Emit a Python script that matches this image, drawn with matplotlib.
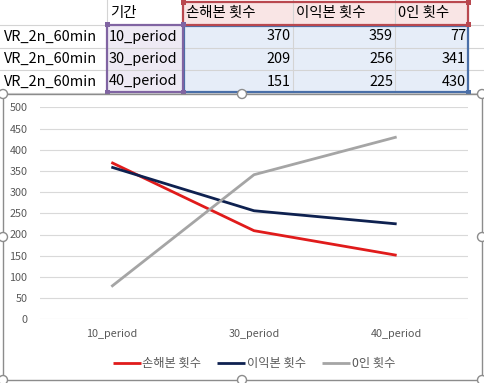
import matplotlib
matplotlib.use('Agg')
import matplotlib.pyplot as plt
from matplotlib.patches import Rectangle, Circle

plt.rcParams['font.family'] = ['Noto Sans CJK KR', 'DejaVu Sans']

# 데이터
row_names = ['VR_2n_60min', 'VR_2n_60min', 'VR_2n_60min']
periods = ['10_period', '30_period', '40_period']
series_names = ['손해본 횟수', '이익본 횟수', '0인 횟수']
loss = [370, 209, 151]
profit = [359, 256, 225]
zero = [77, 341, 430]
series_colors = ['#e01b1b', '#0e2150', '#a5a5a5']

W, H = 484, 383
fig = plt.figure(figsize=(W / 100, H / 100), dpi=100)

# 시트 배경 (픽셀 좌표)
bg = fig.add_axes([0, 0, 1, 1])
bg.set_xlim(0, W)
bg.set_ylim(H, 0)
bg.axis('off')

col_x = [0, 107, 183, 293, 395, 468, 484]
row_y = [0, 25, 48, 70, 93]
grid_c = '#d4d4d4'
for x in col_x[1:-1]:
    bg.plot([x, x], [0, 93], color=grid_c, lw=0.8, zorder=1)
for y in row_y[1:]:
    bg.plot([0, W], [y, y], color=grid_c, lw=0.8, zorder=1)

# 선택 영역 채우기 / 테두리
bg.add_patch(Rectangle((183, 1), 285, 24, facecolor='#f9e5e5', edgecolor='none', zorder=0.5))
bg.add_patch(Rectangle((107, 25), 76, 67, facecolor='#eeeaf4', edgecolor='none', zorder=0.5))
bg.add_patch(Rectangle((183, 25), 285, 67, facecolor='#e6edf8', edgecolor='none', zorder=0.5))
bg.add_patch(Rectangle((183, 1.5), 285, 23, facecolor='none', edgecolor='#b9484f', lw=1.6, zorder=3))
bg.add_patch(Rectangle((107, 24.5), 76, 67.5, facecolor='none', edgecolor='#8064a2', lw=1.6, zorder=3))
bg.add_patch(Rectangle((183.5, 25.5), 284.5, 66.5, facecolor='none', edgecolor='#4a6fa8', lw=1.6, zorder=2.9))
for (x, y, c) in [(183, 2, '#b9484f'), (468, 2, '#b9484f'), (468, 24, '#b9484f'),
                  (107, 24, '#8064a2'), (183, 24, '#8064a2'), (107, 92, '#8064a2'),
                  (183, 92, '#8064a2'), (468, 92, '#4a6fa8')]:
    bg.add_patch(Rectangle((x - 2.5, y - 2.5), 5, 5, facecolor=c, edgecolor='none', zorder=4))

# 셀 텍스트
fs_cell = 10.4
bg.text(110, 12.5, '기간', fontsize=fs_cell, va='center', ha='left', zorder=5)
for x, name in zip([186, 296, 398], series_names):
    bg.text(x, 12.5, name, fontsize=fs_cell, va='center', ha='left', zorder=5)
for i, (rn, p) in enumerate(zip(row_names, periods)):
    y = (row_y[i + 1] + row_y[i + 2]) / 2
    bg.text(4, y, rn, fontsize=fs_cell, va='center', ha='left', zorder=5)
    bg.text(109, y, p, fontsize=fs_cell, va='center', ha='left', zorder=5)
    for x, vals in zip([291, 393, 466], [loss, profit, zero]):
        bg.text(x, y, str(vals[i]), fontsize=fs_cell, va='center', ha='right', zorder=5)

# 차트 영역
bg.add_patch(Rectangle((3, 94), 479, 286, facecolor='white', edgecolor='#8c8c8c', lw=1.0, zorder=6))
for (x, y) in [(3, 94), (242, 94), (482, 94), (3, 237), (482, 237),
               (3, 380), (242, 380), (482, 380)]:
    bg.add_patch(Circle((x, y), 4.5, facecolor='white', edgecolor='#8c8c8c', lw=1.0, zorder=7))

# 선 그래프
ax = fig.add_axes([40 / W, (H - 319.3) / H, 428 / W, 212 / H])
ax.patch.set_visible(False)
xs = range(len(periods))
for vals, name, c in zip([loss, profit, zero], series_names, series_colors):
    ax.plot(xs, vals, color=c, lw=2.0, label=name, solid_capstyle='butt')
ax.set_xlim(-0.5, 2.5)
ax.set_ylim(0, 500)
ax.set_yticks(range(0, 501, 50))
ax.set_xticks(list(xs))
ax.set_xticklabels(periods)
ax.tick_params(axis='both', length=0, labelsize=7.8, labelcolor='#595959')
ax.tick_params(axis='y', pad=9)
ax.tick_params(axis='x', pad=7)
ax.grid(axis='y', color='#d9d9d9', lw=0.8)
ax.set_axisbelow(True)
for s in ax.spines.values():
    s.set_visible(False)

leg = ax.legend(loc='upper center', bbox_to_anchor=(0.5, -0.125), ncol=3, frameon=False,
                fontsize=8.8, handlelength=2.3, handletextpad=0.15, columnspacing=1.3)
for t in leg.get_texts():
    t.set_color('#595959')

fig.savefig('out.png', dpi=100)
